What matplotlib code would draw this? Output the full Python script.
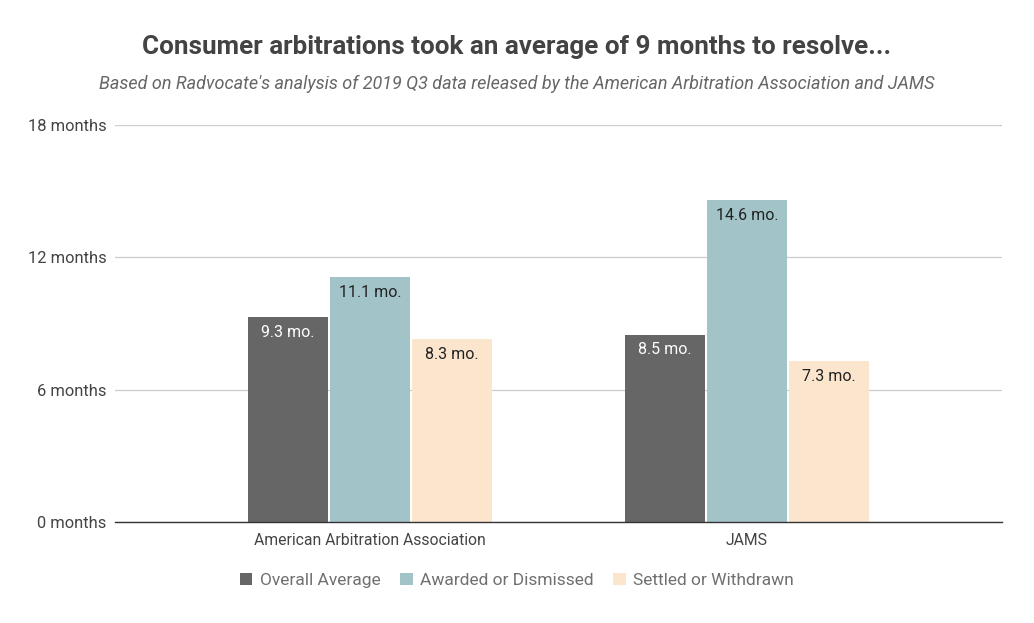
import matplotlib
matplotlib.use("Agg")
import matplotlib.pyplot as plt
import numpy as np
from matplotlib.patches import Patch

plt.rcParams['font.family'] = ['Roboto', 'DejaVu Sans']

categories = ["American Arbitration Association", "JAMS"]
series_names = ["Overall Average", "Awarded or Dismissed", "Settled or Withdrawn"]
overall = [9.3, 8.5]
awarded = [11.1, 14.6]
settled = [8.3, 7.3]
yticks = [0, 6, 12, 18]
ytick_labels = ["0 months", "6 months", "12 months", "18 months"]

colors = ["#666666", "#a2c4c9", "#fce5cd"]
label_colors = ["white", "#222222", "#222222"]

fig = plt.figure(figsize=(10.34, 6.23), dpi=100)
ax = fig.add_axes([0.1112, 0.1621, 0.969 - 0.1112, 0.7994 - 0.1621])

x = np.arange(len(categories))
w = 0.213
step = 0.2175
for i, (vals, c, lc) in enumerate(zip([overall, awarded, settled], colors, label_colors)):
    pos = x + (i - 1) * step
    ax.bar(pos, vals, width=w, color=c, zorder=3)
    for p, v in zip(pos, vals):
        ax.annotate(f"{v} mo.", (p, v), xytext=(0, -11), textcoords="offset points",
                    ha="center", va="center", color=lc, fontsize=11.5)

ax.set_xlim(-0.676, 1.676)
ax.set_ylim(0, 18)
ax.set_yticks(yticks)
ax.set_yticklabels(ytick_labels)
ax.set_xticks(x)
ax.set_xticklabels(categories)
ax.yaxis.grid(True, color="#cccccc", linewidth=0.9, zorder=0)
ax.set_axisbelow(True)
for s in ["top", "right", "left"]:
    ax.spines[s].set_visible(False)
ax.spines["bottom"].set_color("#333333")
ax.spines["bottom"].set_linewidth(1.0)
ax.spines["bottom"].set_zorder(4)
ax.tick_params(axis="both", length=0, colors="#444444")
ax.tick_params(axis="y", pad=6, labelsize=11.9)
ax.tick_params(axis="x", pad=8, labelsize=11.3)

fig.text(0.5, 0.925, "Consumer arbitrations took an average of 9 months to resolve...",
         ha="center", va="center", fontsize=18.7, fontweight="bold", color="#434343")
fig.text(0.5, 0.865, "Based on Radvocate's analysis of 2019 Q3 data released by the American Arbitration Association and JAMS",
         ha="center", va="center", fontsize=13, style="italic", color="#666666")

handles = [Patch(facecolor=c, edgecolor="none") for c in colors]
fig.legend(handles, series_names, loc="center", bbox_to_anchor=(0.5, 0.068), ncol=3,
           frameon=False, fontsize=12.5, labelcolor="#707070", handlelength=0.72, handleheight=0.72,
           handletextpad=0.45, columnspacing=1.1)

fig.savefig("out.png", dpi=100)
